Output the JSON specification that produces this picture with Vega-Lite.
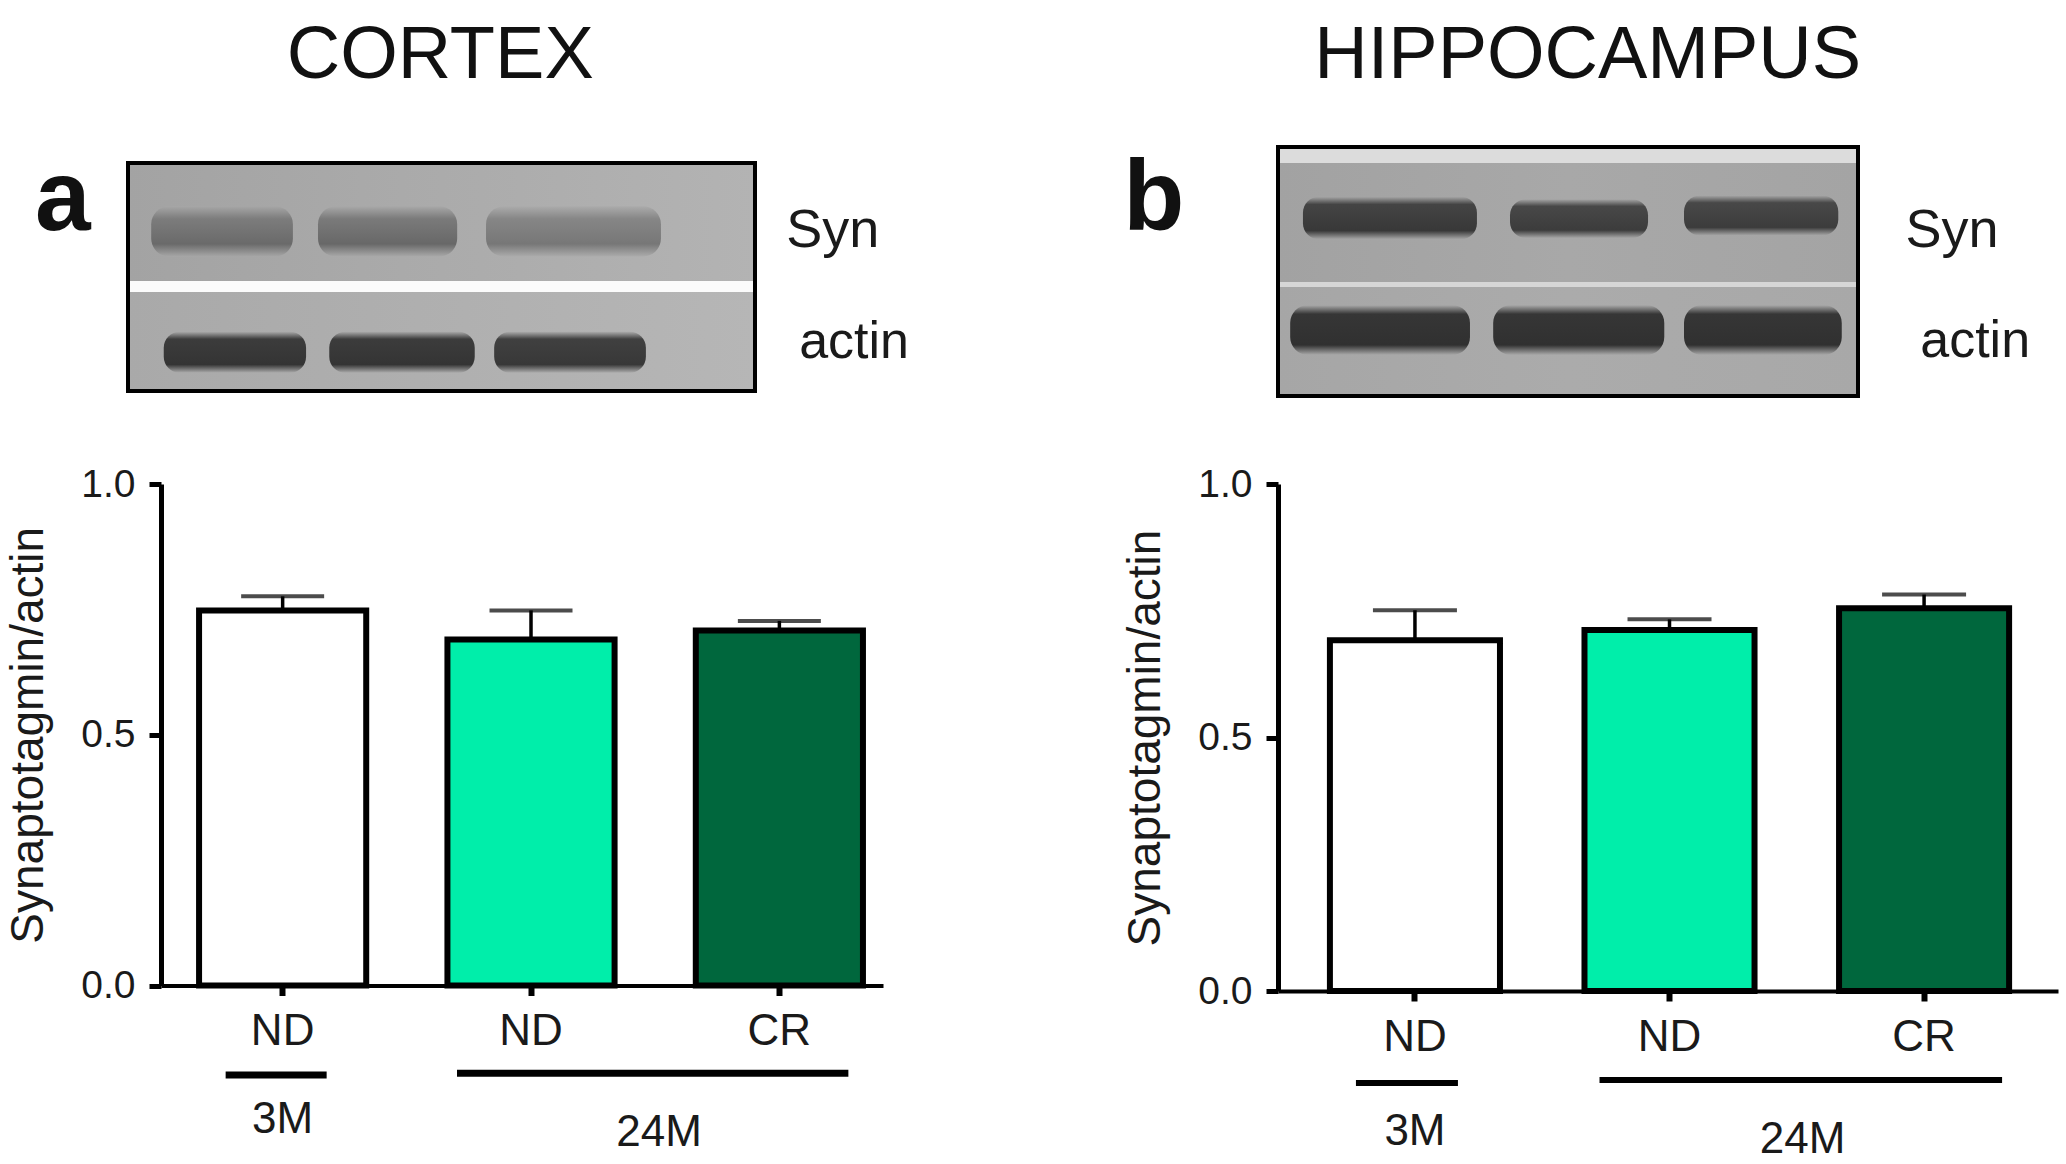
{
  "$schema": "https://vega.github.io/schema/vega-lite/v6.json",
  "background": "white",
  "padding": {"left": 5, "top": 18, "right": 5, "bottom": 5},
  "spacing": 213,
  "config": {"view": {"stroke": null}, "font": "Liberation Sans", "text": {"font": "Liberation Sans"}},
  "hconcat": [
    {
      "width": 722,
      "height": 501.5,
      "resolve": {"scale": {"x": "independent", "y": "independent"}, "axis": {"x": "independent", "y": "independent"}},
      "layer": [
        {
          "data": {"values": [
            {"cond": "3M ND", "age": "3M", "diet": "ND", "mean": 0.748, "upper": 0.776},
            {"cond": "24M ND", "age": "24M", "diet": "ND", "mean": 0.690, "upper": 0.748},
            {"cond": "24M CR", "age": "24M", "diet": "CR", "mean": 0.708, "upper": 0.727}
          ]},
          "encoding": {
            "x": {"field": "cond", "type": "nominal", "sort": null,
              "scale": {"domain": ["3M ND", "24M ND", "24M CR"], "paddingInner": 0.327, "paddingOuter": 0.117, "align": 0.655},
              "axis": {"title": null, "labelExpr": "split(datum.value, ' ')[1]", "labelAngle": 0, "labelFontSize": 44, "labelColor": "#1a1a1a", "labelPadding": 14, "tickSize": 10, "tickWidth": 6, "tickColor": "black", "domainColor": "black", "domainWidth": 4, "grid": false}}
          },
          "layer": [
            {
              "mark": {"type": "rule", "color": "black", "strokeWidth": 3.5},
              "encoding": {
                "y": {"field": "mean", "type": "quantitative",
                  "scale": {"domain": [0, 1], "nice": false},
                  "axis": {"title": "Synaptotagmin/actin", "titleFontSize": 46, "titleFontWeight": "normal", "titleColor": "#1a1a1a", "titlePadding": 28, "values": [0, 0.5, 1], "format": ".1f", "labelFontSize": 39, "labelColor": "#1a1a1a", "labelPadding": 14, "labelFlush": false, "labelOverlap": false, "tickSize": 12, "tickWidth": 5, "tickColor": "black", "domainColor": "black", "domainWidth": 5, "grid": false}},
                "y2": {"field": "upper"}
              }
            },
            {
              "mark": {"type": "tick", "color": "black", "thickness": 4, "size": 83},
              "encoding": {"y": {"field": "upper", "type": "quantitative"}}
            },
            {
              "mark": {"type": "bar", "stroke": "black", "strokeWidth": 6},
              "encoding": {
                "y": {"field": "mean", "type": "quantitative"},
                "fill": {"field": "cond", "type": "nominal", "scale": {"domain": ["3M ND", "24M ND", "24M CR"], "range": ["#ffffff", "#00EEAA", "#00673D"]}, "legend": null}
              }
            },
            {
              "data": {"values": [{"cond": "3M ND", "age": "3M"}]},
              "mark": {"type": "rule", "color": "black", "strokeWidth": 7, "xOffset": -57, "x2Offset": 44},
              "encoding": {
                "x2": {"field": "cond"},
                "y": {"datum": -0.1785, "type": "quantitative"}
              }
            },
            {
              "data": {"values": [{"cond": "24M ND", "last": "24M CR", "age": "24M"}]},
              "mark": {"type": "rule", "color": "black", "strokeWidth": 7, "xOffset": -74, "x2Offset": 69},
              "encoding": {
                "x2": {"field": "last"},
                "y": {"datum": -0.175, "type": "quantitative"}
              }
            },
            {
              "data": {"values": [{"cond": "3M ND", "age": "3M"}]},
              "mark": {"type": "text", "fontSize": 44, "baseline": "alphabetic", "align": "center", "color": "#1a1a1a"},
              "encoding": {
                "y": {"datum": -0.294, "type": "quantitative"},
                "text": {"field": "age"}
              }
            },
            {
              "data": {"values": [{"cond": "24M ND", "age": "24M"}]},
              "mark": {"type": "text", "fontSize": 44, "baseline": "alphabetic", "align": "center", "color": "#1a1a1a", "dx": 128},
              "encoding": {
                "y": {"datum": -0.32, "type": "quantitative"},
                "text": {"field": "age"}
              }
            }
          ]
        },
        {
          "data": {"values": [{"blot": "CORTEX"}]},
          "layer": [
            {"mark": {"type": "rect", "fill": {"gradient": "linear", "x1": 0, "y1": 0, "x2": 1, "y2": 0, "stops": [{"offset": 0, "color": "#a3a3a3"}, {"offset": 1, "color": "#b3b3b3"}]}},
             "encoding": {"x": {"datum": 0, "type": "quantitative", "scale": {"domain": [0.05263, 1.20415], "nice": false, "zero": false}, "axis": null}, "x2": {"datum": 1},
                          "y": {"datum": 0.482, "type": "quantitative", "scale": {"domain": [-2.6075, -0.4079], "nice": false, "zero": false}, "axis": null}, "y2": {"datum": 1}}},
            {"mark": {"type": "rect", "fill": "#fbfbfb"},
             "encoding": {"x": {"datum": 0, "type": "quantitative", "axis": null}, "x2": {"datum": 1}, "y": {"datum": 0.434, "type": "quantitative", "axis": null}, "y2": {"datum": 0.482}}},
            {"mark": {"type": "rect", "fill": {"gradient": "linear", "x1": 0, "y1": 0, "x2": 1, "y2": 0, "stops": [{"offset": 0, "color": "#a9a9a9"}, {"offset": 1, "color": "#b6b6b6"}]}},
             "encoding": {"x": {"datum": 0, "type": "quantitative", "axis": null}, "x2": {"datum": 1}, "y": {"datum": 0, "type": "quantitative", "axis": null}, "y2": {"datum": 0.434}}},
            {"mark": {"type": "rect", "cornerRadius": 18, "fill": {"gradient": "linear", "x1": 0, "y1": 0, "x2": 0, "y2": 1, "stops": [{"offset": 0, "color": "#a6a6a6"}, {"offset": 0.25, "color": "#7c7c7c"}, {"offset": 0.75, "color": "#6a6a6a"}, {"offset": 1, "color": "#a6a6a6"}]}},
             "encoding": {"x": {"datum": 0.037, "type": "quantitative", "axis": null}, "x2": {"datum": 0.263}, "y": {"datum": 0.59, "type": "quantitative", "axis": null}, "y2": {"datum": 0.81}}},
            {"mark": {"type": "rect", "cornerRadius": 18, "fill": {"gradient": "linear", "x1": 0, "y1": 0, "x2": 0, "y2": 1, "stops": [{"offset": 0, "color": "#a8a8a8"}, {"offset": 0.25, "color": "#7a7a7a"}, {"offset": 0.75, "color": "#686868"}, {"offset": 1, "color": "#a8a8a8"}]}},
             "encoding": {"x": {"datum": 0.303, "type": "quantitative", "axis": null}, "x2": {"datum": 0.525}, "y": {"datum": 0.59, "type": "quantitative", "axis": null}, "y2": {"datum": 0.81}}},
            {"mark": {"type": "rect", "cornerRadius": 18, "fill": {"gradient": "linear", "x1": 0, "y1": 0, "x2": 0, "y2": 1, "stops": [{"offset": 0, "color": "#ababab"}, {"offset": 0.25, "color": "#868686"}, {"offset": 0.75, "color": "#777777"}, {"offset": 1, "color": "#ababab"}]}},
             "encoding": {"x": {"datum": 0.571, "type": "quantitative", "axis": null}, "x2": {"datum": 0.85}, "y": {"datum": 0.59, "type": "quantitative", "axis": null}, "y2": {"datum": 0.81}}},
            {"mark": {"type": "rect", "cornerRadius": 16, "fill": {"gradient": "linear", "x1": 0, "y1": 0, "x2": 0, "y2": 1, "stops": [{"offset": 0, "color": "#aaaaaa"}, {"offset": 0.18, "color": "#3c3c3c"}, {"offset": 0.8, "color": "#343434"}, {"offset": 1, "color": "#aaaaaa"}]}},
             "encoding": {"x": {"datum": 0.057, "type": "quantitative", "axis": null}, "x2": {"datum": 0.284}, "y": {"datum": 0.08, "type": "quantitative", "axis": null}, "y2": {"datum": 0.26}}},
            {"mark": {"type": "rect", "cornerRadius": 16, "fill": {"gradient": "linear", "x1": 0, "y1": 0, "x2": 0, "y2": 1, "stops": [{"offset": 0, "color": "#aaaaaa"}, {"offset": 0.18, "color": "#3c3c3c"}, {"offset": 0.8, "color": "#343434"}, {"offset": 1, "color": "#aaaaaa"}]}},
             "encoding": {"x": {"datum": 0.321, "type": "quantitative", "axis": null}, "x2": {"datum": 0.553}, "y": {"datum": 0.08, "type": "quantitative", "axis": null}, "y2": {"datum": 0.26}}},
            {"mark": {"type": "rect", "cornerRadius": 16, "fill": {"gradient": "linear", "x1": 0, "y1": 0, "x2": 0, "y2": 1, "stops": [{"offset": 0, "color": "#acacac"}, {"offset": 0.18, "color": "#404040"}, {"offset": 0.8, "color": "#383838"}, {"offset": 1, "color": "#acacac"}]}},
             "encoding": {"x": {"datum": 0.584, "type": "quantitative", "axis": null}, "x2": {"datum": 0.826}, "y": {"datum": 0.08, "type": "quantitative", "axis": null}, "y2": {"datum": 0.26}}},
            {"mark": {"type": "rect", "fill": "transparent", "stroke": "black", "strokeWidth": 4},
             "encoding": {"x": {"datum": 0, "type": "quantitative", "axis": null}, "x2": {"datum": 1}, "y": {"datum": 0, "type": "quantitative", "axis": null}, "y2": {"datum": 1}}},
            {"mark": {"type": "text", "text": "Syn", "fontSize": 54, "align": "center", "baseline": "alphabetic", "color": "#1a1a1a"},
             "encoding": {"x": {"datum": 1.124, "type": "quantitative", "axis": null}, "y": {"datum": 0.632, "type": "quantitative", "axis": null}}},
            {"mark": {"type": "text", "text": "actin", "fontSize": 52, "align": "center", "baseline": "alphabetic", "color": "#1a1a1a"},
             "encoding": {"x": {"datum": 1.158, "type": "quantitative", "axis": null}, "y": {"datum": 0.145, "type": "quantitative", "axis": null}}},
            {"mark": {"type": "text", "text": "a", "fontSize": 100, "fontWeight": "bold", "align": "center", "baseline": "alphabetic", "color": "#111111"},
             "encoding": {"x": {"datum": -0.104, "type": "quantitative", "axis": null}, "y": {"datum": 0.706, "type": "quantitative", "axis": null}}},
            {"mark": {"type": "text", "text": "CORTEX", "fontSize": 74, "align": "center", "baseline": "alphabetic", "color": "#111111"},
             "encoding": {"x": {"datum": 0.498, "type": "quantitative", "axis": null}, "y": {"datum": 1.373, "type": "quantitative", "axis": null}}}
          ]
        }
      ]
    },
    {
      "width": 780,
      "height": 507,
      "resolve": {"scale": {"x": "independent", "y": "independent"}, "axis": {"x": "independent", "y": "independent"}},
      "layer": [
        {
          "data": {"values": [
            {"cond": "3M ND", "age": "3M", "diet": "ND", "mean": 0.692, "upper": 0.751},
            {"cond": "24M ND", "age": "24M", "diet": "ND", "mean": 0.712, "upper": 0.733},
            {"cond": "24M CR", "age": "24M", "diet": "CR", "mean": 0.755, "upper": 0.782}
          ]},
          "encoding": {
            "x": {"field": "cond", "type": "nominal", "sort": null,
              "scale": {"domain": ["3M ND", "24M ND", "24M CR"], "paddingInner": 0.332, "paddingOuter": 0.198, "align": 0.515},
              "axis": {"title": null, "labelExpr": "split(datum.value, ' ')[1]", "labelAngle": 0, "labelFontSize": 44, "labelColor": "#1a1a1a", "labelPadding": 14, "tickSize": 10, "tickWidth": 6, "tickColor": "black", "domainColor": "black", "domainWidth": 4, "grid": false}}
          },
          "layer": [
            {
              "mark": {"type": "rule", "color": "black", "strokeWidth": 3.5},
              "encoding": {
                "y": {"field": "mean", "type": "quantitative",
                  "scale": {"domain": [0, 1], "nice": false},
                  "axis": {"title": "Synaptotagmin/actin", "titleFontSize": 46, "titleFontWeight": "normal", "titleColor": "#1a1a1a", "titlePadding": 28, "values": [0, 0.5, 1], "format": ".1f", "labelFontSize": 39, "labelColor": "#1a1a1a", "labelPadding": 14, "labelFlush": false, "labelOverlap": false, "tickSize": 12, "tickWidth": 5, "tickColor": "black", "domainColor": "black", "domainWidth": 5, "grid": false}},
                "y2": {"field": "upper"}
              }
            },
            {
              "mark": {"type": "tick", "color": "black", "thickness": 4, "size": 84},
              "encoding": {"y": {"field": "upper", "type": "quantitative"}}
            },
            {
              "mark": {"type": "bar", "stroke": "black", "strokeWidth": 6},
              "encoding": {
                "y": {"field": "mean", "type": "quantitative"},
                "fill": {"field": "cond", "type": "nominal", "scale": {"domain": ["3M ND", "24M ND", "24M CR"], "range": ["#ffffff", "#00EEAA", "#00673D"]}, "legend": null}
              }
            },
            {
              "data": {"values": [{"cond": "3M ND", "age": "3M"}]},
              "mark": {"type": "rule", "color": "black", "strokeWidth": 6, "xOffset": -59, "x2Offset": 43},
              "encoding": {
                "x2": {"field": "cond"},
                "y": {"datum": -0.1815, "type": "quantitative"}
              }
            },
            {
              "data": {"values": [{"cond": "24M ND", "last": "24M CR", "age": "24M"}]},
              "mark": {"type": "rule", "color": "black", "strokeWidth": 6, "xOffset": -70, "x2Offset": 78},
              "encoding": {
                "x2": {"field": "last"},
                "y": {"datum": -0.1755, "type": "quantitative"}
              }
            },
            {
              "data": {"values": [{"cond": "3M ND", "age": "3M"}]},
              "mark": {"type": "text", "fontSize": 44, "baseline": "alphabetic", "align": "center", "color": "#1a1a1a"},
              "encoding": {
                "y": {"datum": -0.303, "type": "quantitative"},
                "text": {"field": "age"}
              }
            },
            {
              "data": {"values": [{"cond": "24M ND", "age": "24M"}]},
              "mark": {"type": "text", "fontSize": 44, "baseline": "alphabetic", "align": "center", "color": "#1a1a1a", "dx": 133},
              "encoding": {
                "y": {"datum": -0.32, "type": "quantitative"},
                "text": {"field": "age"}
              }
            }
          ]
        },
        {
          "data": {"values": [{"blot": "HIPPOCAMPUS"}]},
          "layer": [
            {"mark": {"type": "rect", "fill": "#dcdcdc"},
             "encoding": {"x": {"datum": 0, "type": "quantitative", "scale": {"domain": [0, 1.34483], "nice": false, "zero": false}, "axis": null}, "x2": {"datum": 1},
                          "y": {"datum": 0.936, "type": "quantitative", "scale": {"domain": [-2.3896, -0.3534], "nice": false, "zero": false}, "axis": null}, "y2": {"datum": 1}}},
            {"mark": {"type": "rect", "fill": {"gradient": "linear", "x1": 0, "y1": 0, "x2": 1, "y2": 0, "stops": [{"offset": 0, "color": "#a2a2a2"}, {"offset": 0.5, "color": "#a8a8a8"}, {"offset": 1, "color": "#a4a4a4"}]}},
             "encoding": {"x": {"datum": 0, "type": "quantitative", "axis": null}, "x2": {"datum": 1}, "y": {"datum": 0.458, "type": "quantitative", "axis": null}, "y2": {"datum": 0.936}}},
            {"mark": {"type": "rect", "fill": "#d6d6d6"},
             "encoding": {"x": {"datum": 0, "type": "quantitative", "axis": null}, "x2": {"datum": 1}, "y": {"datum": 0.438, "type": "quantitative", "axis": null}, "y2": {"datum": 0.458}}},
            {"mark": {"type": "rect", "fill": {"gradient": "linear", "x1": 0, "y1": 0, "x2": 1, "y2": 0, "stops": [{"offset": 0, "color": "#a6a6a6"}, {"offset": 0.5, "color": "#ababab"}, {"offset": 1, "color": "#a8a8a8"}]}},
             "encoding": {"x": {"datum": 0, "type": "quantitative", "axis": null}, "x2": {"datum": 1}, "y": {"datum": 0, "type": "quantitative", "axis": null}, "y2": {"datum": 0.438}}},
            {"mark": {"type": "rect", "cornerRadius": 16, "fill": {"gradient": "linear", "x1": 0, "y1": 0, "x2": 0, "y2": 1, "stops": [{"offset": 0, "color": "#a5a5a5"}, {"offset": 0.18, "color": "#444444"}, {"offset": 0.8, "color": "#383838"}, {"offset": 1, "color": "#a5a5a5"}]}},
             "encoding": {"x": {"datum": 0.043, "type": "quantitative", "axis": null}, "x2": {"datum": 0.343}, "y": {"datum": 0.63, "type": "quantitative", "axis": null}, "y2": {"datum": 0.8}}},
            {"mark": {"type": "rect", "cornerRadius": 16, "fill": {"gradient": "linear", "x1": 0, "y1": 0, "x2": 0, "y2": 1, "stops": [{"offset": 0, "color": "#a5a5a5"}, {"offset": 0.18, "color": "#484848"}, {"offset": 0.8, "color": "#3c3c3c"}, {"offset": 1, "color": "#a5a5a5"}]}},
             "encoding": {"x": {"datum": 0.4, "type": "quantitative", "axis": null}, "x2": {"datum": 0.638}, "y": {"datum": 0.635, "type": "quantitative", "axis": null}, "y2": {"datum": 0.79}}},
            {"mark": {"type": "rect", "cornerRadius": 16, "fill": {"gradient": "linear", "x1": 0, "y1": 0, "x2": 0, "y2": 1, "stops": [{"offset": 0, "color": "#a5a5a5"}, {"offset": 0.18, "color": "#484848"}, {"offset": 0.8, "color": "#3c3c3c"}, {"offset": 1, "color": "#a5a5a5"}]}},
             "encoding": {"x": {"datum": 0.7, "type": "quantitative", "axis": null}, "x2": {"datum": 0.966}, "y": {"datum": 0.645, "type": "quantitative", "axis": null}, "y2": {"datum": 0.805}}},
            {"mark": {"type": "rect", "cornerRadius": 18, "fill": {"gradient": "linear", "x1": 0, "y1": 0, "x2": 0, "y2": 1, "stops": [{"offset": 0, "color": "#a9a9a9"}, {"offset": 0.18, "color": "#363636"}, {"offset": 0.8, "color": "#303030"}, {"offset": 1, "color": "#a9a9a9"}]}},
             "encoding": {"x": {"datum": 0.021, "type": "quantitative", "axis": null}, "x2": {"datum": 0.331}, "y": {"datum": 0.165, "type": "quantitative", "axis": null}, "y2": {"datum": 0.365}}},
            {"mark": {"type": "rect", "cornerRadius": 18, "fill": {"gradient": "linear", "x1": 0, "y1": 0, "x2": 0, "y2": 1, "stops": [{"offset": 0, "color": "#a9a9a9"}, {"offset": 0.18, "color": "#363636"}, {"offset": 0.8, "color": "#303030"}, {"offset": 1, "color": "#a9a9a9"}]}},
             "encoding": {"x": {"datum": 0.371, "type": "quantitative", "axis": null}, "x2": {"datum": 0.666}, "y": {"datum": 0.165, "type": "quantitative", "axis": null}, "y2": {"datum": 0.365}}},
            {"mark": {"type": "rect", "cornerRadius": 18, "fill": {"gradient": "linear", "x1": 0, "y1": 0, "x2": 0, "y2": 1, "stops": [{"offset": 0, "color": "#a9a9a9"}, {"offset": 0.18, "color": "#363636"}, {"offset": 0.8, "color": "#303030"}, {"offset": 1, "color": "#a9a9a9"}]}},
             "encoding": {"x": {"datum": 0.7, "type": "quantitative", "axis": null}, "x2": {"datum": 0.972}, "y": {"datum": 0.165, "type": "quantitative", "axis": null}, "y2": {"datum": 0.365}}},
            {"mark": {"type": "rect", "fill": "transparent", "stroke": "black", "strokeWidth": 4},
             "encoding": {"x": {"datum": 0, "type": "quantitative", "axis": null}, "x2": {"datum": 1}, "y": {"datum": 0, "type": "quantitative", "axis": null}, "y2": {"datum": 1}}},
            {"mark": {"type": "text", "text": "Syn", "fontSize": 54, "align": "center", "baseline": "alphabetic", "color": "#1a1a1a"},
             "encoding": {"x": {"datum": 1.162, "type": "quantitative", "axis": null}, "y": {"datum": 0.598, "type": "quantitative", "axis": null}}},
            {"mark": {"type": "text", "text": "actin", "fontSize": 52, "align": "center", "baseline": "alphabetic", "color": "#1a1a1a"},
             "encoding": {"x": {"datum": 1.202, "type": "quantitative", "axis": null}, "y": {"datum": 0.157, "type": "quantitative", "axis": null}}},
            {"mark": {"type": "text", "text": "b", "fontSize": 100, "fontWeight": "bold", "align": "center", "baseline": "alphabetic", "color": "#111111"},
             "encoding": {"x": {"datum": -0.214, "type": "quantitative", "axis": null}, "y": {"datum": 0.667, "type": "quantitative", "axis": null}}},
            {"mark": {"type": "text", "text": "HIPPOCAMPUS", "fontSize": 74, "align": "center", "baseline": "alphabetic", "color": "#111111"},
             "encoding": {"x": {"datum": 0.534, "type": "quantitative", "axis": null}, "y": {"datum": 1.277, "type": "quantitative", "axis": null}}}
          ]
        }
      ]
    }
  ]
}
